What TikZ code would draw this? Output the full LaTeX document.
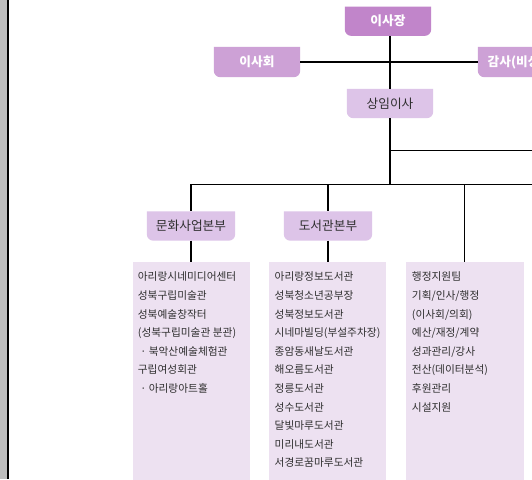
\documentclass[tikz,border=0pt]{standalone}
\usepackage{fontspec}
\setmainfont{Noto Sans CJK KR}
\usetikzlibrary{backgrounds}
\definecolor{cChair}{HTML}{C185CA}
\definecolor{cBoard}{HTML}{CDA1D6}
\definecolor{cMid}{HTML}{DDC4E8}
\definecolor{cList}{HTML}{EDE1F1}
\definecolor{cBar}{HTML}{BDBDBD}
\definecolor{cTxt}{HTML}{2F2F2F}
\newcommand\tabfill[2]{%
  \begin{pgfonlayer}{background}
  \fill[#2] (#1.north west) -- (#1.north east) -- ([yshift=6.5pt]#1.south east)
    arc[start angle=0,end angle=-90,radius=6.5pt] -- ([xshift=6.5pt]#1.south west)
    arc[start angle=270,end angle=180,radius=6.5pt] -- cycle;
  \end{pgfonlayer}}
\tikzset{
  tabbox/.style={minimum width=86pt, minimum height=29pt, inner sep=0pt,
    font=\fontsize{12.7}{15}\selectfont},
  wtab/.style={tabbox, text=white, font=\fontsize{12.7}{15}\selectfont\bfseries},
  dtab/.style={tabbox, text=cTxt},
  listbox/.style={fill=cList, minimum width=117.7pt, minimum height=230pt,
    inner sep=0pt, anchor=north west},
  item/.style={anchor=base west, inner sep=0pt, text=cTxt,
    font=\fontsize{10.7}{12}\selectfont},
  conn/.style={line width=1.1pt, black}
}
\begin{document}
\begin{tikzpicture}[x=1pt,y=-1pt]
\useasboundingbox (0,0) rectangle (532,479);
\begin{pgfonlayer}{background}
\fill[white] (0,0) rectangle (532,479);
\fill[cBar] (0,0) rectangle (7.3,479);
\fill[black] (7.3,0) rectangle (8.8,479);
\end{pgfonlayer}

% top boxes
\node[wtab] (chair) at (388,21.2) {이사장};
\node[wtab, minimum height=30pt] (board) at (257,62) {이사회};
\node[wtab, minimum height=30pt, minimum width=88pt] (audit) at (522,62) {감사(비상임)};
\node[dtab] (sangim) at (390,103.5) {상임이사};
\node[dtab, minimum width=88pt] (dept1) at (191,226) {문화사업본부};
\node[dtab, minimum width=88pt] (dept2) at (328,226) {도서관본부};
\tabfill{chair}{cChair}
\tabfill{board}{cBoard}
\tabfill{audit}{cBoard}
\tabfill{sangim}{cMid}
\tabfill{dept1}{cMid}
\tabfill{dept2}{cMid}

% list boxes
\node[listbox] (list1) at (132.3,261.7) {};
\node[listbox] (list2) at (268.3,261.7) {};
\node[listbox] (list3) at (405.7,261.7) {};

\coordinate (bus) at (532,184.3);
\coordinate (rtop) at (532,150.3);

% connectors
\draw[conn] (board.east) -- (audit.west);
\draw[conn] (sangim.north |- chair.south) -- (sangim.north);
\draw[conn] (sangim.south) -- (sangim.south |- bus);
\draw[conn] (sangim.south |- rtop) -- (rtop);
\draw[conn] (dept1.north |- bus) -- (bus);
\draw[conn] (dept1.north |- bus) -- (dept1.north);
\draw[conn] (dept2.north |- bus) -- (dept2.north);
\draw[conn] (dept1.south) -- (dept1.south |- list1.north);
\draw[conn] (dept2.south) -- (dept2.south |- list2.north);
\draw[conn] (464.3,184.3 |- bus) -- (464.3,261.7 |- list3.north);

% list texts
\foreach \t [count=\i] in {아리랑시네미디어센터, 성북구립미술관, 성북예술창작터,
  {(성북구립미술관 분관)}, {\hspace{2.5pt}· 북악산예술체험관}, 구립여성회관,
  {\hspace{2.5pt}· 아리랑아트홀}}
  \node[item] (a\i) at (137.7,{280.9+(\i-1)*18.6}) {\t};
\foreach \t [count=\i] in {아리랑정보도서관, 성북청소년공부장, 성북정보도서관,
  {시네마빌딩(부설주차장)}, 종암동새날도서관, 해오름도서관, 정릉도서관, 성수도서관,
  달빛마루도서관, 미리내도서관, 서경로꿈마루도서관}
  \node[item] (b\i) at (274.5,{280.9+(\i-1)*18.6}) {\t};
\foreach \t [count=\i] in {행정지원팀, 기획/인사/행정, {(이사회/의회)}, 예산/재정/계약,
  성과관리/강사, {전산(데이터분석)}, 후원관리, 시설지원}
  \node[item] (c\i) at (411.7,{280.9+(\i-1)*18.6}) {\t};
\end{tikzpicture}
\end{document}
